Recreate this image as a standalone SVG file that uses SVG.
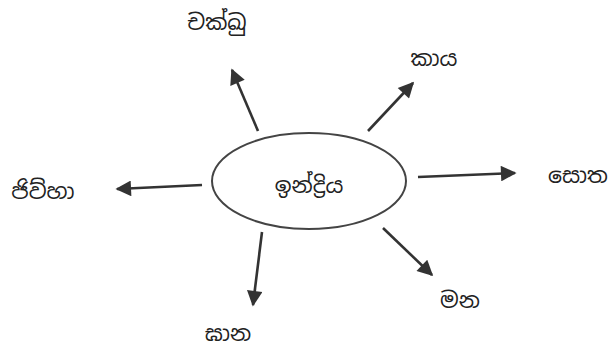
<svg xmlns="http://www.w3.org/2000/svg" width="615" height="352" viewBox="0 0 615 352">
<style>
.lbl{font-family:"Noto Sans Sinhala","Noto Sans","DejaVu Sans",sans-serif;font-size:22px;fill:#222;text-anchor:middle;dominant-baseline:central}
.arr{stroke:#333;stroke-width:2.6;fill:none;marker-end:url(#ah)}
</style>
<defs>
<marker id="ah" viewBox="0 0 10 10" refX="9" refY="5" markerWidth="7" markerHeight="6" markerUnits="strokeWidth" orient="auto">
<path d="M0,0 L10,5 L0,10 z" fill="#333"/>
</marker>
</defs>
<rect width="615" height="352" fill="#fff"/>
<g id="connectors">
<line class="arr" x1="258" y1="131" x2="232" y2="70"/>
<line class="arr" x1="368" y1="131" x2="413" y2="83"/>
<line class="arr" x1="418" y1="177" x2="515" y2="173"/>
<line class="arr" x1="383" y1="228" x2="432" y2="275"/>
<line class="arr" x1="262" y1="232" x2="253" y2="305"/>
<line class="arr" x1="202" y1="185" x2="117" y2="189"/>
</g>
<g id="indriya">
<ellipse cx="309" cy="181" rx="97" ry="48" fill="none" stroke="#444" stroke-width="2"/>
<text class="lbl" x="309" y="185">ඉන්ද්‍රිය</text>
</g>
<g id="cakkhu"><text class="lbl" x="217" y="22">චක්ඛු</text></g>
<g id="kaya"><text class="lbl" x="434" y="58">කාය</text></g>
<g id="sota"><text class="lbl" x="578" y="175">සොත</text></g>
<g id="mana"><text class="lbl" x="460" y="300">මන</text></g>
<g id="ghana"><text class="lbl" x="228" y="333">ඝාන</text></g>
<g id="jivha"><text class="lbl" x="43" y="191">ජිව්හා</text></g>
</svg>
